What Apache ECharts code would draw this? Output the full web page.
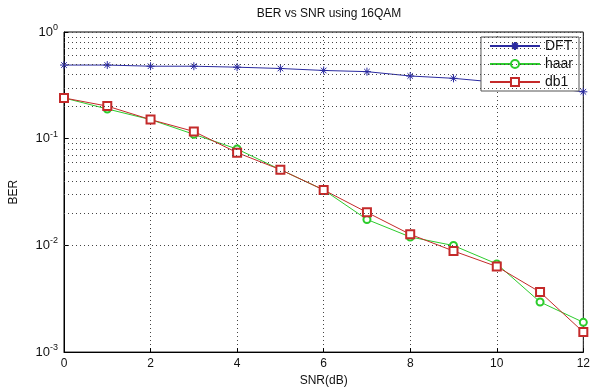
<!DOCTYPE html>
<html>
<head>
<meta charset="utf-8">
<script src="https://cdn.jsdelivr.net/npm/echarts@6/dist/echarts.min.js"></script>
<style>html,body{margin:0;padding:0;background:#fff;}#c{width:593px;height:392px;}</style>
</head>
<body>
<div id="c"></div>
<script>
var snr = [0,1,2,3,4,5,6,7,8,9,10,11,12];
var dft = [0.49,0.49,0.478,0.478,0.468,0.455,0.436,0.425,0.387,0.368,0.338,0.31,0.275];
var haar = [0.241,0.19,0.151,0.11,0.080,0.0513,0.0331,0.0175,0.0120,0.00997,0.00671,0.00295,0.00190];
var db1 = [0.241,0.202,0.151,0.117,0.074,0.0513,0.0331,0.0204,0.0127,0.00886,0.00634,0.00365,0.00154];
var minorGrid = [0.002,0.003,0.004,0.005,0.006,0.007,0.008,0.009,
                 0.02,0.03,0.04,0.05,0.06,0.07,0.08,0.09,
                 0.2,0.3,0.4,0.5,0.6,0.7,0.8,0.9];

function pairs(ys){ return snr.map(function(x,i){ return [x, ys[i]]; }); }

var chart = echarts.init(document.getElementById('c'), null, {renderer:'canvas'});
var dotted = {color:'#444', width:1, type:[1,3]};
var asterisk = 'path://M0,5 L10,5 M5,0 L5,10 M1.5,1.5 L8.5,8.5 M8.5,1.5 L1.5,8.5';
chart.setOption({
  animation:false,
  backgroundColor:'#fff',
  textStyle:{fontFamily:'Liberation Sans, Arial, sans-serif'},
  title:{text:'BER vs SNR using 16QAM', left:324, textAlign:'center', top:3,
    textStyle:{fontSize:12, fontWeight:'normal', color:'#111'}},
  grid:{left:64, right:8, top:32, bottom:35, show:true, borderColor:'#000', borderWidth:1},
  legend:{
    orient:'vertical', right:14, top:37, data:['DFT','haar','db1'],
    backgroundColor:'#fff', borderColor:'#555', borderWidth:1,
    padding:[2,6,2,8], itemWidth:50, itemHeight:10, itemGap:4,
    textStyle:{fontSize:14, color:'#111'}
  },
  xAxis:{
    type:'value', min:0, max:12, interval:2,
    name:'SNR(dB)', nameLocation:'middle', nameGap:19,
    nameTextStyle:{fontSize:12, color:'#111'},
    axisLine:{lineStyle:{color:'#000'}},
    axisTick:{inside:true, length:4, lineStyle:{color:'#000'}},
    axisLabel:{fontSize:12, color:'#111', margin:6},
    splitLine:{show:true, lineStyle:dotted}
  },
  yAxis:{
    type:'log', logBase:10, min:0.001, max:1,
    name:'BER', nameLocation:'middle', nameGap:44,
    nameTextStyle:{fontSize:12, color:'#111'},
    axisLine:{lineStyle:{color:'#000'}},
    axisTick:{inside:true, length:4, lineStyle:{color:'#000'}},
    axisLabel:{
      margin:6, color:'#111',
      formatter:function(v){ var e=Math.round(Math.log10(v)); return '{b|10}{s|'+e+'}'; },
      rich:{ b:{fontSize:13, color:'#111'}, s:{fontSize:9, color:'#111', padding:[0,0,9,0]} }
    },
    splitLine:{show:true, lineStyle:dotted}
  },
  series:[
    {type:'line', name:'grid', data:[], silent:true, z:1,
      markLine:{silent:true, symbol:['none','none'], label:{show:false},
        lineStyle:dotted, animation:false,
        data:minorGrid.map(function(v){ return {yAxis:v}; })}},
    {type:'line', name:'DFT', data:pairs(dft), symbol:asterisk, symbolSize:8,
      showAllSymbol:true, z:3,
      lineStyle:{color:'#2a2aa0', width:1}, itemStyle:{color:'#2a2aa0', borderColor:'#2a2aa0', borderWidth:1}},
    {type:'line', name:'haar', data:pairs(haar), symbol:'emptyCircle', symbolSize:7, z:3,
      lineStyle:{color:'#2ccc2c', width:1}, itemStyle:{color:'#2ccc2c', borderWidth:1}},
    {type:'line', name:'db1', data:pairs(db1), symbol:'emptyRect', symbolSize:8, z:4,
      lineStyle:{color:'#c42a2a', width:1}, itemStyle:{color:'#c42a2a', borderWidth:1}}
  ]
});
</script>
</body>
</html>
